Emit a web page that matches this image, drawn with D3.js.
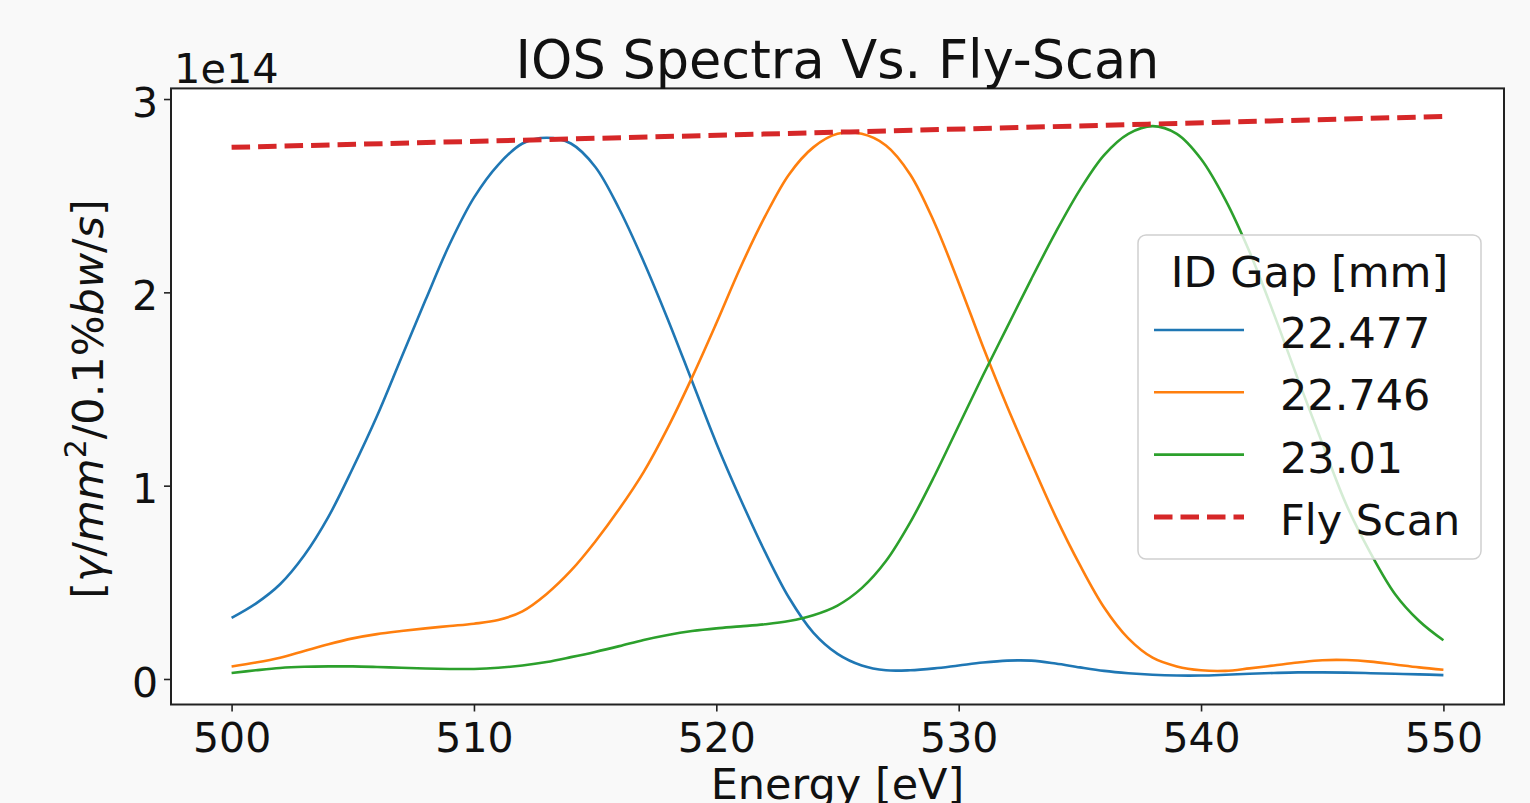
<!DOCTYPE html>
<html>
<head>
<meta charset="utf-8">
<script src="https://cdn.jsdelivr.net/npm/d3@7"></script>
<style>
    html, body { margin: 0; padding: 0; background: #f9f9f9; }
    svg { display: block; font-family: "DejaVu Sans", sans-serif; }
</style>
</head>
<body>
<div id="chart"></div>
<script>
// photon flux, units of 1e14, sampled every 1 eV
const energy = d3.range(500, 551, 1)

const gap22477 = [0.316, 0.39, 0.49, 0.64, 0.84, 1.09, 1.36, 1.66, 1.96, 2.25,
    2.49, 2.66, 2.77, 2.80, 2.77, 2.65, 2.43, 2.16, 1.86, 1.54,
    1.22, 0.93, 0.66, 0.42, 0.24, 0.13, 0.07, 0.045, 0.045, 0.055,
    0.07, 0.085, 0.095, 0.095, 0.08, 0.06, 0.042, 0.03, 0.022, 0.018,
    0.018, 0.022, 0.027, 0.031, 0.034, 0.034, 0.033, 0.030, 0.027, 0.024,
    0.02]

const gap22746 = [0.065, 0.085, 0.11, 0.145, 0.18, 0.21, 0.232, 0.248, 0.262, 0.274,
    0.286, 0.305, 0.35, 0.44, 0.56, 0.71, 0.88, 1.07, 1.30, 1.56,
    1.84, 2.13, 2.39, 2.61, 2.75, 2.82, 2.82, 2.76, 2.61, 2.36,
    2.05, 1.72, 1.41, 1.12, 0.84, 0.59, 0.37, 0.21, 0.11, 0.065,
    0.045, 0.042, 0.055, 0.07, 0.085, 0.097, 0.098, 0.09, 0.075, 0.06,
    0.048]

const gap23010 = [0.031, 0.045, 0.057, 0.063, 0.065, 0.065, 0.062, 0.058, 0.054, 0.052,
    0.052, 0.058, 0.07, 0.088, 0.113, 0.14, 0.17, 0.202, 0.228, 0.248,
    0.262, 0.272, 0.283, 0.30, 0.33, 0.38, 0.47, 0.61, 0.81, 1.05,
    1.31, 1.57, 1.82, 2.07, 2.31, 2.53, 2.71, 2.82, 2.86, 2.82,
    2.69, 2.48, 2.21, 1.89, 1.55, 1.22, 0.90, 0.65, 0.44, 0.30,
    0.20]

const flyEnergy = [500, 512.9, 525.5, 537.8, 550]
const flyValues = [2.75, 2.79, 2.83, 2.87, 2.91]

const gapLabels = ["22.477", "22.746", "23.01"]
const seriesColors = ["#1f77b4", "#ff7f0e", "#2ca02c"]
const flyColor = "#d62728"

const xTicks = [500, 510, 520, 530, 540, 550]
const yTicks = [0, 1, 2, 3]

const W = 1530, H = 803
const plot = {left: 171, right: 1504, top: 88.4, bottom: 704.5}

const svg = d3.select("#chart")
    .append("svg")
    .attr("width", W)
    .attr("height", H)

svg.append("rect")
    .attr("width", W)
    .attr("height", H)
    .attr("fill", "#f9f9f9")

const x = d3.scaleLinear()
    .domain([497.5, 552.5])
    .range([plot.left, plot.right])

const y = d3.scaleLinear()
    .domain([-0.132, 3.055])
    .range([plot.bottom, plot.top])

// plot background
svg.append("rect")
    .attr("x", plot.left)
    .attr("y", plot.top)
    .attr("width", plot.right - plot.left)
    .attr("height", plot.bottom - plot.top)
    .attr("fill", "white")

// axes
const xAxis = svg.append("g")
    .attr("transform", "translate(0," + plot.bottom + ")")
    .call(d3.axisBottom(x).tickValues(xTicks).tickSize(7).tickPadding(11).tickFormat(d3.format("d")))
const yAxis = svg.append("g")
    .attr("transform", "translate(" + plot.left + ",0)")
    .call(d3.axisLeft(y).tickValues(yTicks).tickSize(7).tickPadding(6).tickFormat(d3.format("d")))

for (let ax of [xAxis, yAxis]) {
    ax.select(".domain").remove()
    ax.selectAll(".tick line").attr("stroke", "#222").attr("stroke-width", 1.6)
    ax.selectAll(".tick text")
        .attr("fill", "#111")
        .style("font-family", "DejaVu Sans")
        .style("font-size", "41px")
}
xAxis.selectAll(".tick text").attr("dy", "0.71em")
yAxis.selectAll(".tick text").attr("dy", "0.42em")

// series
const series = [gap22477, gap22746, gap23010]
const line = d3.line()
    .x((d, i) => x(energy[i]))
    .y(d => y(d))
    .curve(d3.curveCatmullRom.alpha(0.5))

series.forEach((values, i) => {
    svg.append("path")
        .datum(values)
        .attr("d", line)
        .attr("fill", "none")
        .attr("stroke", seriesColors[i])
        .attr("stroke-width", 2.6)
})

const flyLine = d3.line()
    .x((d, i) => x(flyEnergy[i]))
    .y(d => y(d))

svg.append("path")
    .datum(flyValues)
    .attr("d", flyLine)
    .attr("fill", "none")
    .attr("stroke", flyColor)
    .attr("stroke-width", 5)
    .attr("stroke-dasharray", "18.5,8")

// frame
svg.append("rect")
    .attr("x", plot.left)
    .attr("y", plot.top)
    .attr("width", plot.right - plot.left)
    .attr("height", plot.bottom - plot.top)
    .attr("fill", "none")
    .attr("stroke", "#222")
    .attr("stroke-width", 2)

// texts
svg.append("text")
    .attr("x", (plot.left + plot.right) / 2)
    .attr("y", 78)
    .attr("text-anchor", "middle")
    .style("font-size", "52.5px")
    .attr("fill", "#111")
    .text("IOS Spectra Vs. Fly-Scan")

svg.append("text")
    .attr("x", 174)
    .attr("y", 83)
    .style("font-size", "41.5px")
    .attr("fill", "#111")
    .text("1e14")

svg.append("text")
    .attr("x", (plot.left + plot.right) / 2)
    .attr("y", 799)
    .attr("text-anchor", "middle")
    .style("font-size", "43px")
    .attr("fill", "#111")
    .text("Energy [eV]")

const yLabel = svg.append("text")
    .attr("transform", "translate(103,399) rotate(-90)")
    .attr("text-anchor", "middle")
    .style("font-size", "43px")
    .attr("fill", "#111")
const labelParts = [
    ["[", false], ["γ", true], ["/", false], ["mm", true], ["2", false, "sup"],
    ["/0.1%", false], ["bw", true], ["/", false], ["s", true], ["]", false]
]
labelParts.forEach(p => {
    const t = yLabel.append("tspan")
        .text(p[0])
        .style("font-style", p[1] ? "italic" : "normal")
    if (p[2] === "sup") {
        t.style("font-size", "30px").attr("dy", "-17")
    } else if (p[0] === "/0.1%") {
        t.attr("dy", "17")
    }
})

// legend
const legend = svg.append("g")
legend.append("rect")
    .attr("x", 1138)
    .attr("y", 235)
    .attr("width", 343)
    .attr("height", 324)
    .attr("rx", 8)
    .attr("fill", "white")
    .attr("fill-opacity", 0.8)
    .attr("stroke", "#d0d0d0")
    .attr("stroke-width", 1.5)

legend.append("text")
    .attr("x", 1309.5)
    .attr("y", 287)
    .attr("text-anchor", "middle")
    .style("font-size", "43px")
    .attr("fill", "#111")
    .text("ID Gap [mm]")

const legendItems = gapLabels.map((g, i) => ({label: g, color: seriesColors[i], dash: null, width: 2.6}))
legendItems.push({label: "Fly Scan", color: flyColor, dash: "18.5,8", width: 5})

legendItems.forEach((d, i) => {
    const ly = 330 + i * 62.3
    legend.append("line")
        .attr("x1", 1154)
        .attr("x2", 1244)
        .attr("y1", ly)
        .attr("y2", ly)
        .attr("stroke", d.color)
        .attr("stroke-width", d.width)
        .attr("stroke-dasharray", d.dash)
    legend.append("text")
        .attr("x", 1280)
        .attr("y", ly + 18)
        .style("font-size", "43px")
        .attr("fill", "#111")
        .text(d.label)
})
</script>
</body>
</html>
